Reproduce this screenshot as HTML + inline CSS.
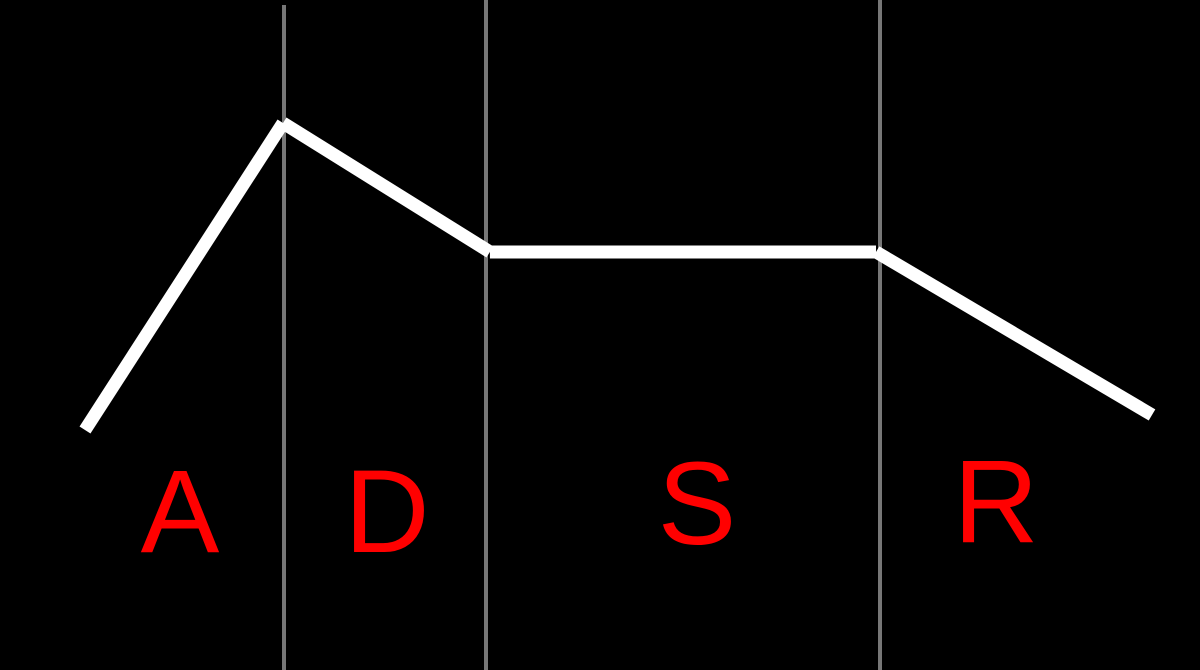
<!DOCTYPE html>
<html>
<head>
<meta charset="utf-8">
<style>
  html, body { margin:0; padding:0; background:#000; }
  svg { display:block; }
</style>
</head>
<body>
<svg id="chart" width="1200" height="670" viewBox="0 0 1200 670">
  <rect x="0" y="0" width="1200" height="670" fill="#000"/>
  <g id="dividers"></g>
  <g id="envelope"></g>
  <g id="labels" font-family="'Liberation Sans', Arial, sans-serif" font-size="118" fill="#ff0000" text-anchor="middle">
    <text x="180" y="552">A</text>
    <text x="387" y="552">D</text>
    <text x="697" y="544">S</text>
    <text x="996" y="542">R</text>
  </g>
</svg>
<script>
const times = [0, 1, 2.045, 3.995, 5.389];
const levels = [0, 1, 0.58, 0.58, 0.049];
const dividerTimes = [1.005, 2.025, 4.015];

function xScale(t) { return 85 + t * 198; }
function yScale(l) { return 430 - l * 307; }

const NS = 'http://www.w3.org/2000/svg';
const dg = document.getElementById('dividers');
dividerTimes.forEach(function (t, i) {
  const ln = document.createElementNS(NS, 'line');
  const x = Math.round(xScale(t));
  ln.setAttribute('x1', x); ln.setAttribute('x2', x);
  ln.setAttribute('y1', i === 0 ? 5 : 0); ln.setAttribute('y2', 670);
  ln.setAttribute('stroke', '#777'); ln.setAttribute('stroke-width', 4);
  
  
  dg.appendChild(ln);
});

const eg = document.getElementById('envelope');
const segNames = ['attack-segment', 'decay-segment', 'sustain-segment', 'release-segment'];
for (let i = 0; i < times.length - 1; i++) {
  const ln = document.createElementNS(NS, 'line');
  ln.setAttribute('x1', xScale(times[i])); ln.setAttribute('y1', yScale(levels[i]));
  ln.setAttribute('x2', xScale(times[i + 1])); ln.setAttribute('y2', yScale(levels[i + 1]));
  ln.setAttribute('stroke', '#fff'); ln.setAttribute('stroke-width', 13);
  ln.setAttribute('stroke-linecap', 'butt');
  
  
  eg.appendChild(ln);
}
</script>
</body>
</html>
